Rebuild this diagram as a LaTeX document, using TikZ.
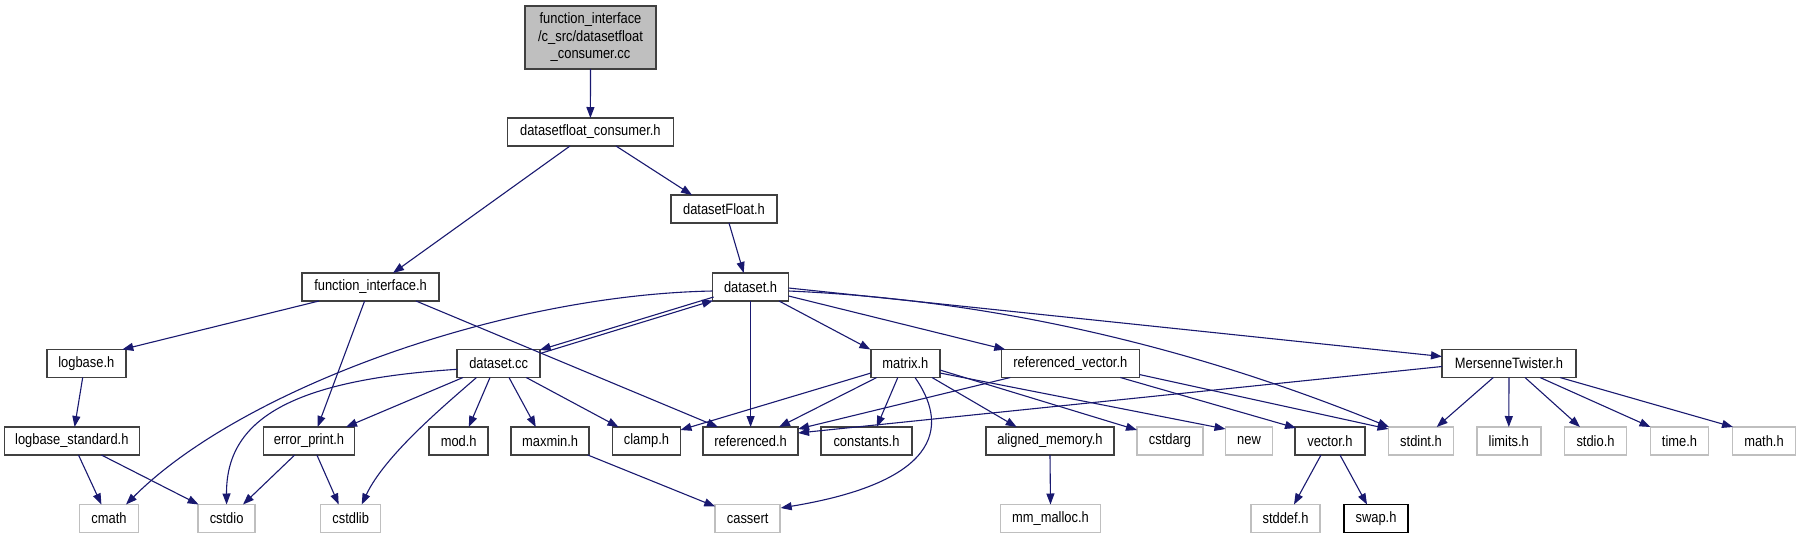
\documentclass[tikz,border=0pt]{standalone}
\usepackage{fontspec}
\setmainfont{Liberation Sans}[FakeStretch=0.86]
\usetikzlibrary{arrows.meta,calc}
\definecolor{edgeblue}{RGB}{25,25,112}
\definecolor{boxline}{RGB}{64,64,64}
\definecolor{graybox}{RGB}{191,191,191}
\definecolor{rootfill}{RGB}{191,191,191}
\newcommand{\dlink}[4]{\draw[edge] ($(#1)+(#2)$) -- ($(#3)+(#4)$);}
\begin{document}
\begin{tikzpicture}[x=1pt,y=-1pt,
 box/.style={draw=boxline, line width=1.5pt, rectangle, minimum height=28, inner sep=0, outer sep=0, font=\fontsize{15}{17.5}\selectfont, fill=white},
 sysbox/.style={box, draw=graybox},
 edge/.style={draw=edgeblue, line width=1.1pt, -{Triangle[length=11pt,width=8pt]}, fill=none}]
\useasboundingbox[fill=white] (0,0) rectangle (1800,539);
% row 0-2
\node[box, fill=rootfill, minimum width=131, minimum height=63, align=center] (root) at (590.5,37.5) {function\_interface\\/c\_src/datasetfloat\\\_consumer.cc};
\node[box, minimum width=166] (dfc) at (590.4,132) {datasetfloat\_consumer.h};
\node[box, minimum width=106] (dsF) at (724,209) {datasetFloat.h};
% row 3
\node[box, minimum width=137] (fi) at (370.6,287) {function\_interface.h};
\node[box, minimum width=76] (dsh) at (750.6,287) {dataset.h};
% row 4
\node[box, minimum width=79] (logbase) at (86.3,363.5) {logbase.h};
\node[box, minimum width=83] (dscc) at (498.7,363.5) {dataset.cc};
\node[box, minimum width=69] (matrix) at (905.4,363.5) {matrix.h};
\node[box, minimum width=138] (refvec) at (1070.3,363.5) {referenced\_vector.h};
\node[box, minimum width=134] (MT) at (1509,363.5) {MersenneTwister.h};
% row 5
\node[box, minimum width=135] (lbs) at (71.8,441) {logbase\_standard.h};
\node[box, minimum width=91] (ep) at (309,441) {error\_print.h};
\node[box, minimum width=59] (mod) at (458.7,441) {mod.h};
\node[box, minimum width=78] (maxmin) at (550.2,441) {maxmin.h};
\node[box, minimum width=68] (clamp) at (646.5,441) {clamp.h};
\node[box, minimum width=95] (ref) at (750.6,441) {referenced.h};
\node[box, minimum width=91] (const) at (866.5,441) {constants.h};
\node[box, minimum width=128] (aligned) at (1050,441) {aligned\_memory.h};
\node[sysbox, minimum width=66] (cstdarg) at (1170,441) {cstdarg};
\node[sysbox, minimum width=47] (new) at (1249,441) {new};
\node[box, minimum width=70] (vector) at (1330,441) {vector.h};
\node[sysbox, minimum width=65] (stdint) at (1421,441) {stdint.h};
\node[sysbox, minimum width=64] (limits) at (1508.8,441) {limits.h};
\node[sysbox, minimum width=62] (stdio) at (1595.5,441) {stdio.h};
\node[sysbox, minimum width=58] (time) at (1679.5,441) {time.h};
\node[sysbox, minimum width=63] (math) at (1764,441) {math.h};
% row 6
\node[sysbox, minimum width=59] (cmath) at (109,518.5) {cmath};
\node[sysbox, minimum width=57] (cstdio) at (226.6,518.5) {cstdio};
\node[sysbox, minimum width=60] (cstdlib) at (350.7,518.5) {cstdlib};
\node[sysbox, minimum width=65] (cassert) at (747.7,518.5) {cassert};
\node[sysbox, minimum width=100] (mmm) at (1050.5,518.5) {mm\_malloc.h};
\node[sysbox, minimum width=69] (stddef) at (1285.5,518.5) {stddef.h};
\node[box, draw=black, minimum width=64] (swap) at (1376,518.5) {swap.h};
% edges
\dlink{root}{0,31.5}{dfc}{0,-14}
\dlink{dfc}{-20.4,14}{fi}{22.4,-14}
\dlink{dfc}{25.6,14}{dsF}{-32,-14}
\dlink{dsF}{5,14}{dsh}{-6.9,-14}
\dlink{fi}{-51.6,14}{logbase}{36,-14}
\dlink{fi}{-6,14}{ep}{8.6,-14}
\dlink{fi}{45.4,14}{ref}{-32.6,-14}
\draw[edge] ($(dsh)+(-38,4)$) .. controls (500,295) and (240,390) .. ($(cmath)+(17,-14)$);
\dlink{dsh}{-37,10}{dscc}{41,-13.5}
\dlink{dscc}{41.5,-10}{dsh}{-37.5,13.5}
\dlink{dsh}{0,14}{ref}{0,-14}
\dlink{dsh}{28.4,14}{matrix}{-35,-14}
\dlink{dsh}{38,9}{refvec}{-65,-14}
\draw[edge] ($(dsh)+(38,4)$) .. controls (1000,300) and (1200,350) .. ($(stdint)+(-32,-14)$);
\dlink{dsh}{38,1}{MT}{-67,-7}
\dlink{logbase}{-3.6,14}{lbs}{2.8,-14}
\dlink{lbs}{6.7,14}{cmath}{-7.6,-14}
\dlink{lbs}{29.6,14}{cstdio}{-28,-14}
\draw[edge] ($(dscc)+(-41.4,5.8)$) .. controls (290,380) and (226,420) .. ($(cstdio)+(0,-14)$);
\dlink{dscc}{-35.7,14}{ep}{37,-14}
\draw[edge] ($(dscc)+(-22.2,14)$) .. controls (445,405) and (385,455) .. ($(cstdlib)+(11,-14)$);
\dlink{dscc}{-8.7,14}{mod}{10.1,-14}
\dlink{dscc}{10.3,14}{maxmin}{-14.4,-14}
\dlink{dscc}{27.5,14}{clamp}{-28,-14}
\dlink{ep}{-14.3,14}{cstdio}{16.4,-14}
\dlink{ep}{7.9,14}{cstdlib}{-12,-14}
\dlink{maxmin}{37.6,14}{cassert}{-32.5,-12}
\dlink{matrix}{-34.4,9.5}{clamp}{34,-11}
\dlink{matrix}{-28.7,14}{ref}{28.4,-14}
\dlink{matrix}{-7.6,14}{const}{10.2,-14}
\draw[edge] ($(matrix)+(9.6,14)$) .. controls (945,420) and (950,480) .. ($(cassert)+(33,-10.5)$);
\dlink{matrix}{26.6,14}{aligned}{-33.3,-14}
\dlink{matrix}{34.5,6.5}{cstdarg}{-33,-11}
\dlink{matrix}{34.5,9.5}{new}{-23.5,-12}
\dlink{refvec}{-60,14}{ref}{47.5,-12}
\dlink{refvec}{50,14}{vector}{-34,-13}
\dlink{refvec}{69,11}{stdint}{-32.5,-12}
\dlink{MT}{-67,3}{ref}{47.5,-8}
\dlink{MT}{-15.7,14}{stdint}{15.7,-14}
\dlink{MT}{0,14}{limits}{0,-14}
\dlink{MT}{16,14}{stdio}{-15.5,-14}
\dlink{MT}{31,14}{time}{-29,-14}
\dlink{MT}{51,14}{math}{-31,-14}
\dlink{aligned}{0,14}{mmm}{0,-14}
\dlink{vector}{-9,14}{stddef}{8.5,-14}
\dlink{vector}{10,14}{swap}{-9,-14}
\end{tikzpicture}
\end{document}
